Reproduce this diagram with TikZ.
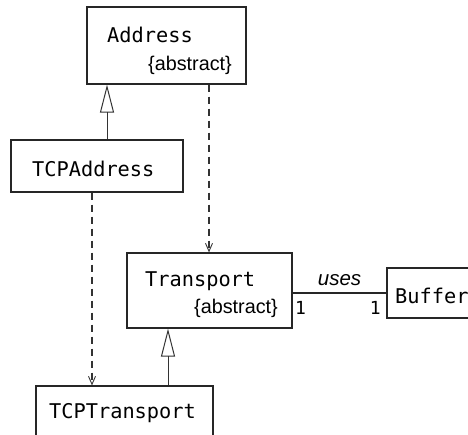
\documentclass[tikz,border=0pt]{standalone}
\usepackage{fontspec}
\setmainfont{Liberation Sans}
\newfontfamily\classfont{DejaVu Sans Mono}
\usetikzlibrary{arrows.meta}

\tikzset{
  classbox/.style={draw=black!85, line width=1.2pt, fill=white, inner sep=0pt},
  classname/.style={font=\classfont\fontsize{20.3}{23}\selectfont, inner sep=0pt, anchor=base west},
  tagtext/.style={font=\fontsize{19.8}{22}\selectfont, inner sep=0pt, anchor=base east},
  multtext/.style={font=\classfont\fontsize{18}{20}\selectfont, inner sep=0pt, anchor=base west},
  inherits/.style={draw=black!80, line width=1pt,
    -{Triangle[open, length=28pt, width=14pt, line width=1pt]}},
  depends/.style={draw=black!80, line width=1.1pt, dash pattern=on 7pt off 5pt,
    -{Straight Barb[length=8pt, width=7pt, line width=0.9pt]}},
  assoc/.style={draw=black!85, line width=1.1pt}
}

\begin{document}
\begin{tikzpicture}[x=1pt, y=-1pt]
  \useasboundingbox (0,0) rectangle (468,435);

  % class boxes
  \node[classbox, minimum width=159pt, minimum height=77pt] (address) at (166.5,45.5) {};
  \node[classbox, minimum width=172pt, minimum height=52pt] (tcpaddress) at (97,166) {};
  \node[classbox, minimum width=165pt, minimum height=75pt] (transport) at (209.5,290.5) {};
  \node[classbox, minimum width=110pt, minimum height=50pt] (buffer) at (442,293) {};
  \node[classbox, minimum width=177pt, minimum height=80pt] (tcptransport) at (124.5,426) {};

  % class names and tags
  \node[classname] (addressname) at (107,43) {Address};
  \node[tagtext] (addresstag) at (232,71) {\{abstract\}};
  \node[classname] (tcpaddressname) at (32,177) {TCPAddress};
  \node[classname] (transportname) at (145,287) {Transport};
  \node[tagtext] (transporttag) at (278,313) {\{abstract\}};
  \node[classname] (buffername) at (395,303) {Buffer};
  \node[classname] (tcptransportname) at (49,418) {TCPTransport};

  % generalizations
  \draw[inherits] (tcpaddress.north -| 107,0) -- (address.south -| 107,0);
  \draw[inherits] (tcptransport.north -| 168,0) -- (transport.south -| 168,0);

  % dependencies
  \draw[depends] (address.south -| 209,0) -- (transport.north -| 209,0);
  \draw[depends] (tcpaddress.south -| 92,0) -- (tcptransport.north -| 92,0);

  % association Transport -- Buffer
  \draw[assoc] (transport.east |- 0,293) -- (buffer.west |- 0,293)
    node[pos=0.5, above=3pt, font=\itshape\fontsize{20.5}{22}\selectfont] (uses) {uses};
  \node[multtext] (multleft) at (295,315) {1};
  \node[multtext, anchor=base east] (multright) at (381,315) {1};
\end{tikzpicture}
\end{document}
